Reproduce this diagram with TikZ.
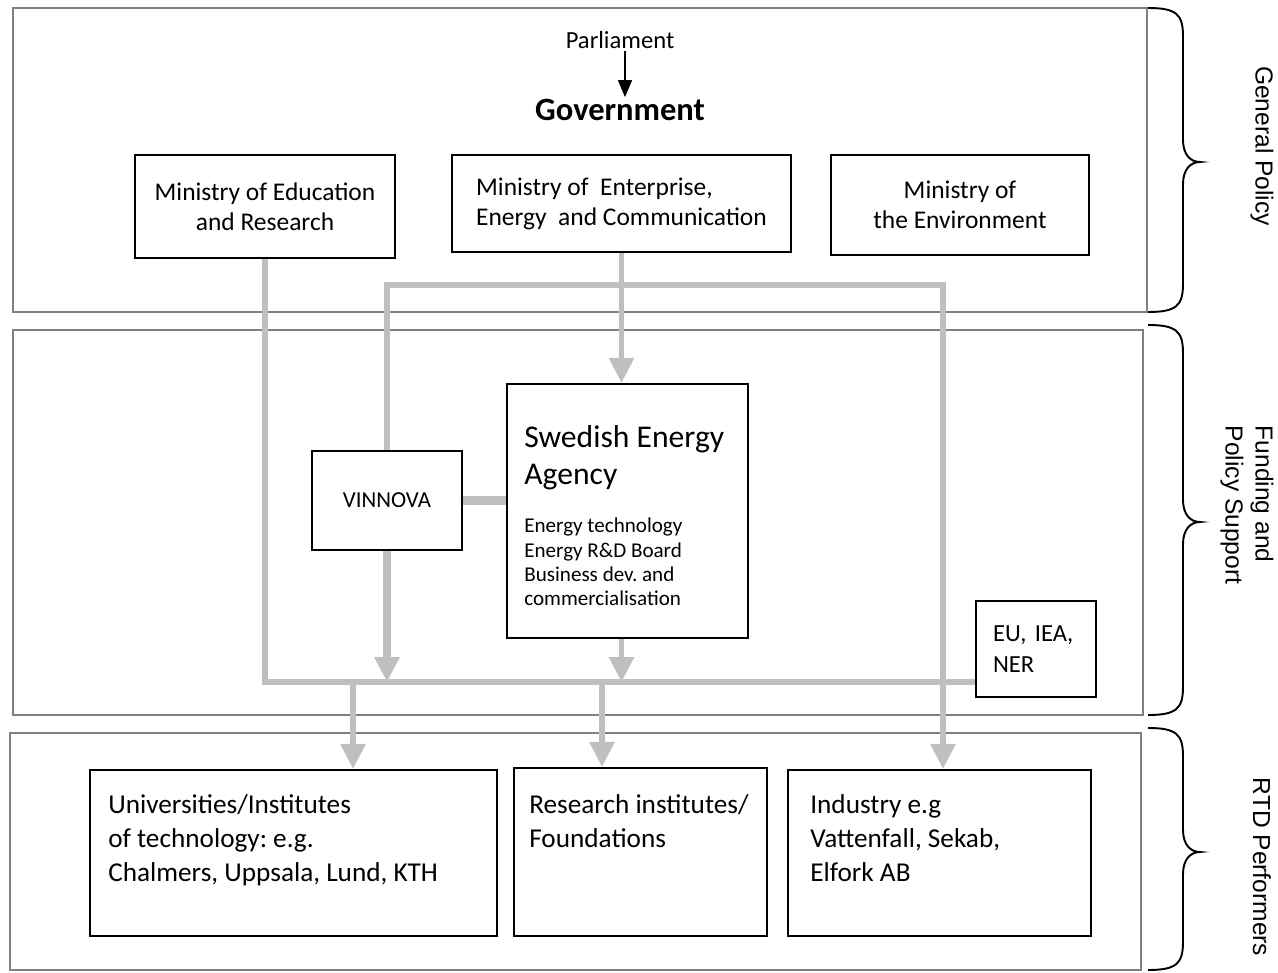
\documentclass[tikz,border=0pt]{standalone}
\usepackage{fontspec}
\setmainfont{Carlito}
\newfontfamily\sidefont{Liberation Sans}
\usetikzlibrary{positioning}
\usetikzlibrary{arrows.meta}
\definecolor{FRAME}{HTML}{808080}
\definecolor{FLOW}{HTML}{BFBFBF}
\tikzset{
	panel/.style = {draw=FRAME, line width=1pt},
	box/.style = {draw=black, line width=1.2pt, inner sep=0pt},
	txt/.style = {font=\fontsize{14.5}{17}\selectfont},
	bigtxt/.style = {font=\fontsize{15.5}{19.3}\selectfont, align=left, inner sep=0pt},
	side/.style = {font=\sidefont\fontsize{14}{17}\selectfont, rotate=-90, align=left},
	flow/.style = {draw=FLOW, line width=3.3pt},
	thickflow/.style = {draw=FLOW, line width=4.6pt},
	tip/.style = {-{Triangle[length=0.5cm, width=0.48cm]}}
}
% brace on the right of a panel: top, tip, bottom
\newcommand{\panelbrace}[3]{%
	\draw[line width=1.1pt] (1148,#1) .. controls (1176,#1) and (1183,#1+6) .. (1183,#1+28)
	      -- (1183,#2-22) .. controls (1183,#2-8) and (1190,#2) .. (1200,#2)
	      .. controls (1190,#2) and (1183,#2+8) .. (1183,#2+22)
	      -- (1183,#3-28) .. controls (1183,#3-6) and (1176,#3) .. (1148,#3);}

\begin{document}
\frenchspacing
\begin{tikzpicture}[x=0.02cm, y=-0.02cm]
		\useasboundingbox (0,0) rectangle (1278,973);
		% panels
		\draw[panel] (13,8) rectangle (1147,312);
		\draw[panel] (13,330) rectangle (1143,715);
		\draw[panel] (10,733) rectangle (1141,970);
		\panelbrace{8}{162}{312}
		\panelbrace{325}{522}{715}
		\panelbrace{728}{852}{970}
		\node[side] (gp) at (1262,146) {General Policy};
		\node[side] (fps) at (1247,505) {Funding and\\Policy Support};
		\node[side] (rtd) at (1262,867) {RTD Performers};
		% general policy
		\node[font=\fontsize{14}{17}\selectfont, inner sep=1pt] (parl) at (620,40) {Parliament};
		\node[font=\fontsize{18.5}{21}\selectfont\bfseries, inner sep=1pt] (gov) at (620,110) {Government};
		\draw[-{Triangle[length=0.34cm, width=0.28cm]}, line width=1pt]
		      ([xshift=0.1cm]parl.south) -- ([xshift=0.1cm]gov.north);
		\node[box, txt, align=center, minimum width=5.2cm, minimum height=2.06cm] (edu) at (265,206.5)
		      {Ministry of Education\\and Research};
		\node[box, txt, align=left, minimum width=6.78cm, minimum height=1.94cm] (ent) at (621.5,203.5)
		      {Ministry of \ Enterprise,\\Energy \ and Communication};
		\node[box, txt, align=center, minimum width=5.16cm, minimum height=2cm] (env) at (960,205)
		      {Ministry of\\the Environment};
		% funding and policy support
		\node[box, minimum width=4.82cm, minimum height=5.08cm] (sea) at (627.5,511) {};
		\node[font=\fontsize{18}{21}\selectfont, align=left, inner sep=0pt,
		      below right=0.84cm and 0.36cm of sea.north west] (seatitle) {Swedish Energy\\Agency};
		\node[font=\fontsize{12}{13.7}\selectfont, align=left, inner sep=0pt,
		      below right=0.56cm and 0cm of seatitle.south west] (sealist)
		      {Energy technology\\Energy R\&D Board\\Business dev.\ and\\commercialisation};
		\node[box, font=\fontsize{13}{16}\selectfont, minimum width=3cm, minimum height=1.98cm] (vin) at (387,500.5) {VINNOVA};
		\node[box, font=\fontsize{14}{18}\selectfont, align=left, text width=1.72cm, inner xsep=0.34cm,
		      minimum height=1.92cm] (eu) at (1036,649) {EU, IEA,\\NER};
		% rtd performers
		\node[box, minimum width=8.14cm, minimum height=3.32cm] (uni) at (293.5,853) {};
		\node[bigtxt, below right=0.5cm and 0.38cm of uni.north west] (unitxt)
		      {Universities/Institutes\\of technology: e.g.\\Chalmers, Uppsala, Lund, KTH};
		\node[box, minimum width=5.06cm, minimum height=3.36cm] (res) at (640.5,852) {};
		\node[bigtxt, below right=0.54cm and 0.32cm of res.north west] (restxt)
		      {Research institutes/\\Foundations};
		\node[box, minimum width=6.06cm, minimum height=3.32cm] (ind) at (939.5,853) {};
		\node[bigtxt, below right=0.5cm and 0.46cm of ind.north west] (indtxt)
		      {Industry e.g\\Vattenfall, Sekab,\\Elfork AB};
		% connectors
		\coordinate (hub) at (620,285);
		\coordinate (bus) at (0,682);
		\coordinate (b1) at (353,682);
		\coordinate (b2) at (602,682);
		\draw[flow, tip] (ent.south) -- (ent.south |- sea.north);
		\draw[flow, tip] (vin.north) |- (hub) -| ([xshift=0.07cm]ind.north);
		\draw[flow] (edu.south) |- (eu.west |- bus);
		\draw[thickflow, tip] (vin.south) -- (vin.south |- bus);
		\draw[flow, tip] (sea.south -| ent.south) -- (ent.south |- bus);
		\draw[thickflow] (vin.east) -- (vin.east -| sea.west);
		\draw[flow, tip] (b1) -- (b1 |- uni.north);
		\draw[flow, tip] (b2) -- (b2 |- res.north);
	\end{tikzpicture}
\end{document}
